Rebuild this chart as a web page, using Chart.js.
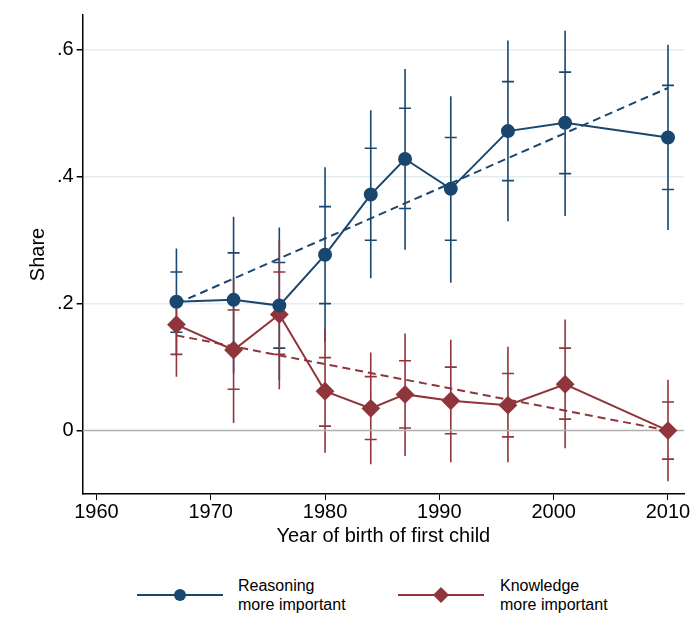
<!DOCTYPE html>
<html><head><meta charset="utf-8">
<script src="https://cdn.jsdelivr.net/npm/chart.js@4"></script>
<style>
body{margin:0;background:#fff;font-family:"Liberation Sans",Arial,sans-serif;}
#wrap{position:relative;width:694px;height:548px;}
#legend{position:absolute;top:576px;left:0;width:694px;height:44px;font-size:16px;color:#000;}
.item{position:absolute;top:0;line-height:19px;}
svg{position:absolute;top:9px;}
</style></head><body>
<div id="wrap"><canvas id="chart"></canvas></div>
<div id="legend">
  <svg style="left:137px" width="86" height="20"><line x1="0" y1="10" x2="86" y2="10" stroke="#1a476f" stroke-width="2"/><circle cx="43" cy="10" r="6" fill="#1a476f"/></svg>
  <div class="item" style="left:238px">Reasoning<br>more important</div>
  <svg style="left:398px" width="86" height="20"><line x1="0" y1="10" x2="86" y2="10" stroke="#90353b" stroke-width="2"/><polygon points="43,2 51,10 43,18 35,10" fill="#90353b"/></svg>
  <div class="item" style="left:500px">Knowledge<br>more important</div>
</div>
<script>
// 資料
const years = [1967, 1972, 1976, 1980, 1984, 1987, 1991, 1996, 2001, 2010];
const reasoning = [0.203, 0.206, 0.197, 0.277, 0.372, 0.428, 0.381, 0.472, 0.485, 0.462];
const reasonHi95 = [0.287, 0.337, 0.32, 0.415, 0.505, 0.57, 0.527, 0.615, 0.63, 0.608];
const reasonLo95 = [0.12, 0.09, 0.08, 0.14, 0.24, 0.285, 0.233, 0.33, 0.338, 0.316];
const reasonHi90 = [0.25, 0.28, 0.265, 0.353, 0.445, 0.508, 0.462, 0.55, 0.565, 0.544];
const reasonLo90 = [0.155, 0.13, 0.13, 0.2, 0.3, 0.35, 0.3, 0.394, 0.405, 0.38];
const knowledge = [0.167, 0.127, 0.183, 0.062, 0.035, 0.057, 0.047, 0.04, 0.073, 0.0];
const knowHi95 = [0.21, 0.24, 0.3, 0.16, 0.123, 0.153, 0.143, 0.132, 0.175, 0.08];
const knowLo95 = [0.085, 0.012, 0.065, -0.035, -0.053, -0.04, -0.05, -0.05, -0.028, -0.08];
const knowHi90 = [0.205, 0.19, 0.25, 0.115, 0.085, 0.11, 0.1, 0.09, 0.13, 0.045];
const knowLo90 = [0.12, 0.065, 0.12, 0.007, -0.014, 0.004, -0.005, -0.01, 0.018, -0.045];
const fitYears = [1967, 2010];
const reasonFit = [0.2, 0.54];
const knowFit = [0.15, 0.0];
const xTicks = [1960, 1970, 1980, 1990, 2000, 2010];
const yTicks = [0, 0.2, 0.4, 0.6];

const BLUE = "#1a476f", RED = "#90353b";
const pts = (xs, ys) => xs.map((x, i) => ({ x: x, y: ys[i] }));

// 誤差線
const errorBars = {
  id: "errorBars",
  beforeDatasetsDraw(chart) {
    const { ctx, scales: { x, y } } = chart;
    const sets = [
      [BLUE, reasonHi95, reasonLo95, reasonHi90, reasonLo90],
      [RED, knowHi95, knowLo95, knowHi90, knowLo90],
    ];
    ctx.save();
    ctx.lineWidth = 1.6;
    sets.forEach(([c, hi, lo, hi9, lo9]) => {
      ctx.strokeStyle = c;
      years.forEach((yr, i) => {
        const px = x.getPixelForValue(yr);
        ctx.beginPath();
        ctx.moveTo(px, y.getPixelForValue(hi[i]));
        ctx.lineTo(px, y.getPixelForValue(lo[i]));
        [hi9[i], lo9[i]].forEach(v => {
          const py = y.getPixelForValue(v);
          ctx.moveTo(px - 6, py);
          ctx.lineTo(px + 6, py);
        });
        ctx.stroke();
      });
    });
    // 零線
    const zy = y.getPixelForValue(0);
    ctx.strokeStyle = "#b0b0b0";
    ctx.lineWidth = 1.5;
    ctx.beginPath();
    ctx.moveTo(chart.chartArea.left, zy);
    ctx.lineTo(chart.chartArea.right, zy);
    ctx.stroke();
    ctx.restore();
  },
};

const FONT = { size: 20, family: "Liberation Sans" };

new Chart(document.querySelector("#chart").getContext("2d"), {
  type: "line",
  data: {
    datasets: [
      { data: pts(fitYears, reasonFit), borderColor: BLUE, borderWidth: 2, borderDash: [8, 5], pointRadius: 0 },
      { data: pts(fitYears, knowFit), borderColor: RED, borderWidth: 2, borderDash: [8, 5], pointRadius: 0 },
      { data: pts(years, reasoning), borderColor: BLUE, backgroundColor: BLUE, borderWidth: 2, pointRadius: 6, pointStyle: "circle" },
      { data: pts(years, knowledge), borderColor: RED, backgroundColor: RED, borderWidth: 2, pointRadius: 8, pointStyle: "rectRot" },
    ],
  },
  options: {
    responsive: true,
    maintainAspectRatio: false,
    animation: false,
    layout: { padding: { top: 1, right: 8, left: 22, bottom: 0 } },
    plugins: { legend: { display: false }, tooltip: { enabled: false } },
    scales: {
      x: {
        type: "linear", min: 1958.8, max: 2011.4,
        afterBuildTicks: a => { a.ticks = xTicks.map(v => ({ value: v })); },
        grid: { color: "rgba(0,0,0,0)", drawTicks: true, tickColor: "#000", tickLength: 6 },
        border: { color: "#000", width: 1.5 },
        ticks: { color: "#000", font: FONT, padding: 0, maxRotation: 0, callback: v => String(v) },
        title: { display: true, text: "Year of birth of first child", color: "#000", font: FONT, padding: 0 },
      },
      y: {
        min: -0.1, max: 0.655,
        afterBuildTicks: a => { a.ticks = yTicks.map(v => ({ value: v })); },
        grid: { color: c => (c.tick && c.tick.value === 0 ? "rgba(0,0,0,0)" : "#e4eef0"), lineWidth: 1.5, tickColor: "#000", tickLength: 6 },
        border: { color: "#000", width: 1.5 },
        ticks: { color: "#000", font: FONT, callback: v => (v === 0 ? "0" : String(v).replace(/^0/, "")) },
        title: { display: true, text: "Share", color: "#000", font: FONT },
      },
    },
  },
  plugins: [errorBars],
});
</script>
</body></html>
